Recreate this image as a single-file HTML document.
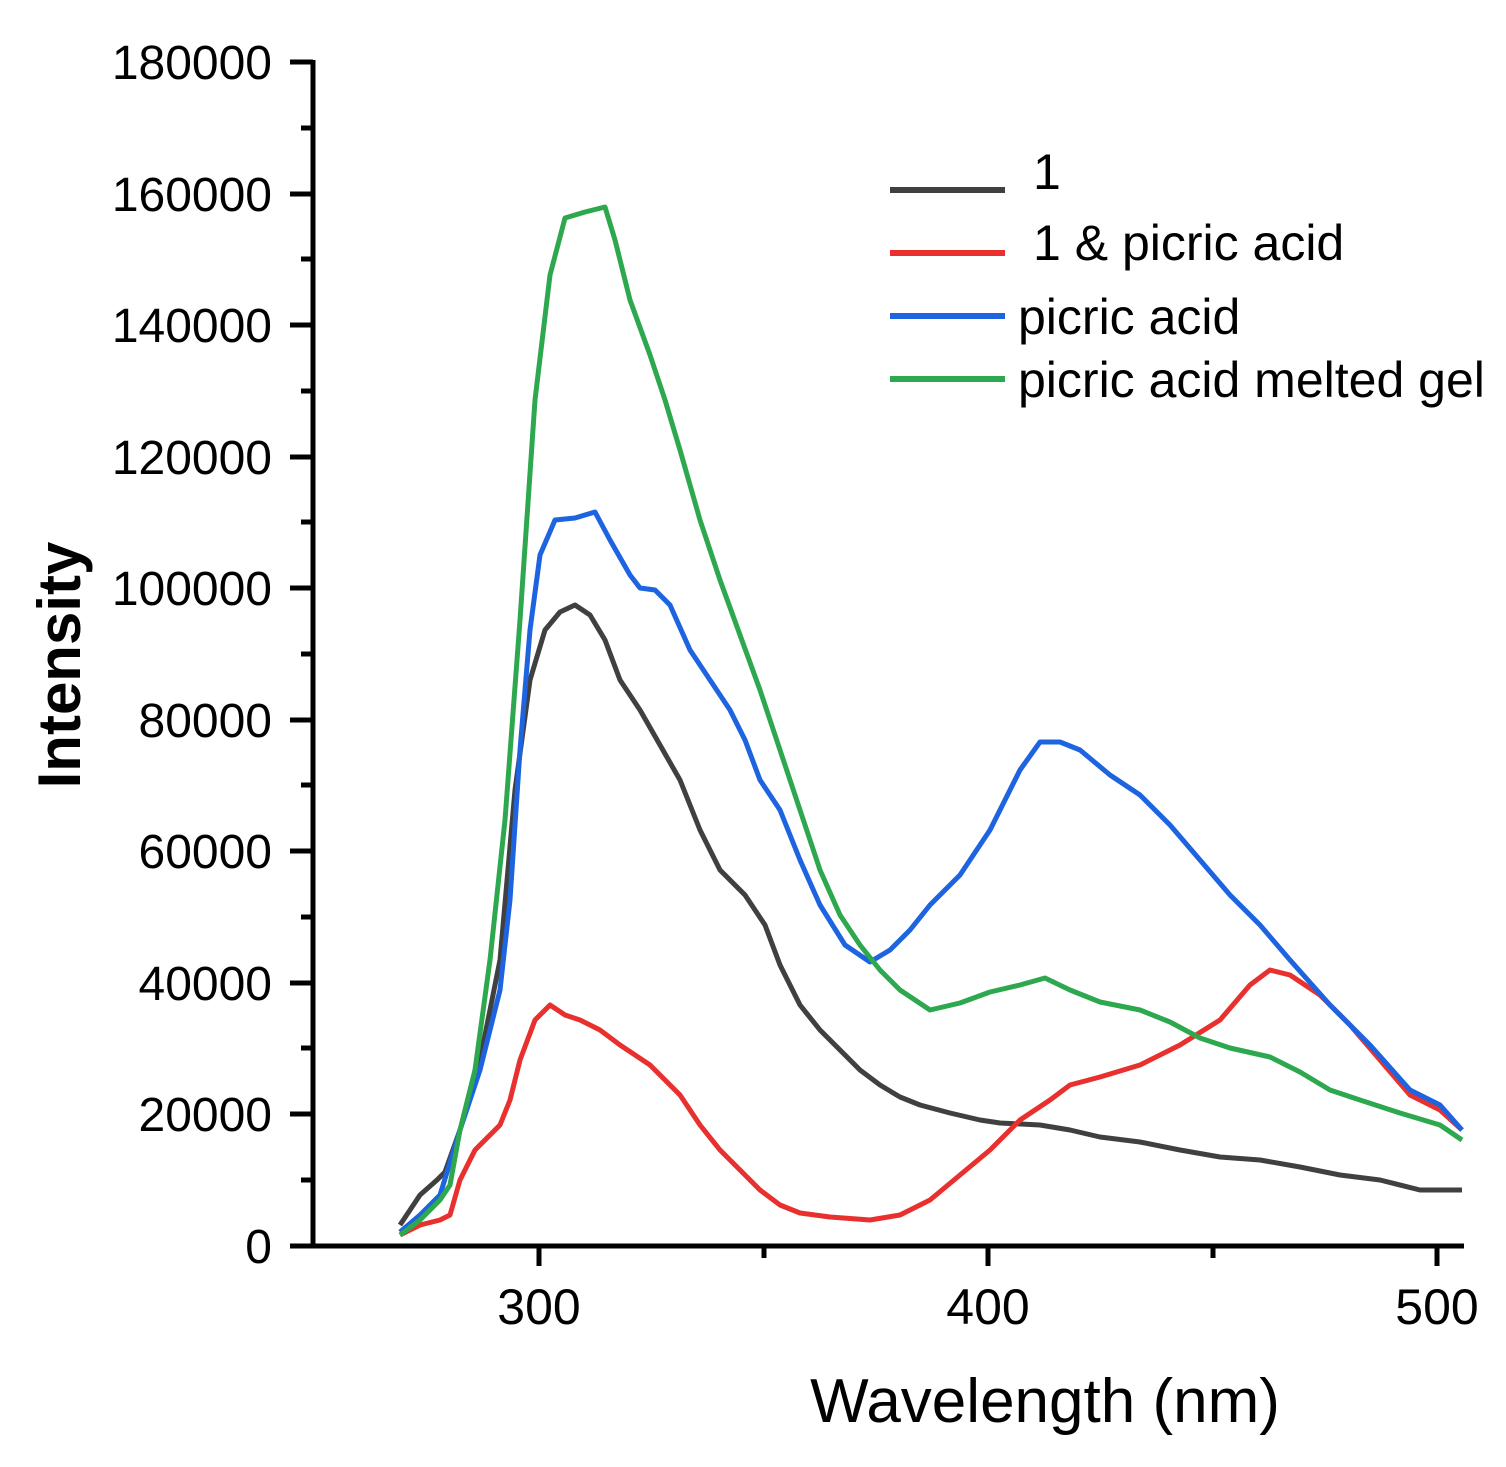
<!DOCTYPE html>
<html><head><meta charset="utf-8"><style>html,body{margin:0;padding:0;background:#fff}</style></head>
<body>
<svg width="1506" height="1462" viewBox="0 0 1506 1462" xmlns="http://www.w3.org/2000/svg" font-family="Liberation Sans, sans-serif">
<rect width="1506" height="1462" fill="#fff"/>
<g stroke="#000" stroke-width="5" fill="none">
<line x1="313" y1="60" x2="313" y2="1248"/>
<line x1="311" y1="1246" x2="1464" y2="1246"/>
<path d="M290 62H313M290 194H313M290 325H313M290 457H313M290 588H313M290 720H313M290 851H313M290 983H313M290 1114H313M290 1246H313"/>
<path d="M301 128H313M301 259H313M301 391H313M301 522H313M301 654H313M301 785H313M301 917H313M301 1048H313M301 1180H313"/>
<path d="M539 1246V1266M988 1246V1266M1437 1246V1266M764 1246V1258M1213 1246V1258"/>
</g>
<g font-size="48" text-anchor="end" fill="#000">
<text x="272" y="79">180000</text><text x="272" y="211">160000</text><text x="272" y="342">140000</text><text x="272" y="474">120000</text><text x="272" y="605">100000</text><text x="272" y="737">80000</text><text x="272" y="868">60000</text><text x="272" y="1000">40000</text><text x="272" y="1131">20000</text><text x="272" y="1263">0</text>
</g>
<g font-size="50" text-anchor="middle">
<text x="539" y="1324">300</text><text x="988" y="1324">400</text><text x="1437" y="1324">500</text>
</g>
<text x="1045" y="1422" font-size="62" text-anchor="middle">Wavelength (nm)</text>
<text transform="translate(80,665) rotate(-90)" font-size="60" font-weight="bold" text-anchor="middle">Intensity</text>
<g fill="none" stroke-width="5" stroke-linejoin="round">
<polyline stroke="#404040" points="400,1225 420,1195 437,1180 445,1172 460,1130 480,1060 500,960 515,790 530,680 545,630 560,612 575,605 590,615 605,640 620,680 640,710 660,745 680,780 700,830 720,870 745,895 765,925 780,965 800,1005 820,1030 840,1050 860,1070 880,1085 900,1097 920,1105 950,1113 980,1120 1000,1123 1040,1125 1070,1130 1100,1137 1140,1142 1180,1150 1220,1157 1260,1160 1300,1167 1340,1175 1380,1180 1420,1190 1462,1190"/>
<polyline stroke="#e8312f" points="400,1235 420,1225 440,1220 450,1215 460,1180 475,1150 490,1135 500,1125 510,1100 520,1060 535,1020 550,1005 565,1015 580,1020 600,1030 620,1045 650,1065 680,1095 700,1125 720,1150 740,1170 760,1190 780,1205 800,1213 830,1217 870,1220 900,1215 930,1200 960,1175 990,1150 1020,1120 1050,1100 1070,1085 1100,1077 1140,1065 1180,1045 1220,1020 1250,985 1270,970 1290,975 1320,995 1350,1025 1380,1060 1410,1095 1440,1110 1462,1130"/>
<polyline stroke="#1e64e0" points="400,1232 420,1215 440,1195 460,1130 480,1070 500,990 510,900 520,750 530,630 540,555 555,520 575,518 595,512 610,540 630,575 640,588 655,590 670,605 690,650 710,680 730,710 745,740 760,780 780,810 800,860 820,905 845,945 870,962 890,950 910,930 930,905 960,875 990,830 1020,770 1040,742 1060,742 1080,750 1110,775 1140,795 1170,825 1200,860 1230,895 1260,925 1290,960 1330,1005 1370,1045 1410,1090 1440,1105 1462,1130"/>
<polyline stroke="#2ea84f" points="400,1235 420,1220 440,1200 450,1185 460,1130 475,1070 490,960 505,820 520,620 535,400 550,275 565,218 585,212 605,207 615,240 630,300 650,355 665,400 680,450 700,520 720,580 740,635 760,690 780,750 800,810 820,870 840,915 860,945 880,970 900,990 930,1010 960,1003 990,992 1020,985 1045,978 1070,990 1100,1002 1140,1010 1170,1022 1200,1038 1230,1048 1270,1057 1300,1072 1330,1090 1360,1100 1400,1113 1440,1125 1462,1140"/>
</g>
<g stroke-width="6">
<line x1="890" y1="190" x2="1005" y2="190" stroke="#404040"/>
<line x1="890" y1="253" x2="1005" y2="253" stroke="#e8312f"/>
<line x1="890" y1="316" x2="1005" y2="316" stroke="#1e64e0"/>
<line x1="890" y1="379" x2="1005" y2="379" stroke="#2ea84f"/>
</g>
<g font-size="50">
<text x="1033" y="189">1</text>
<text x="1033" y="260">1 &amp; picric acid</text>
<text x="1018" y="334">picric acid</text>
<text x="1018" y="397">picric acid melted gel</text>
</g>
</svg>
</body></html>
